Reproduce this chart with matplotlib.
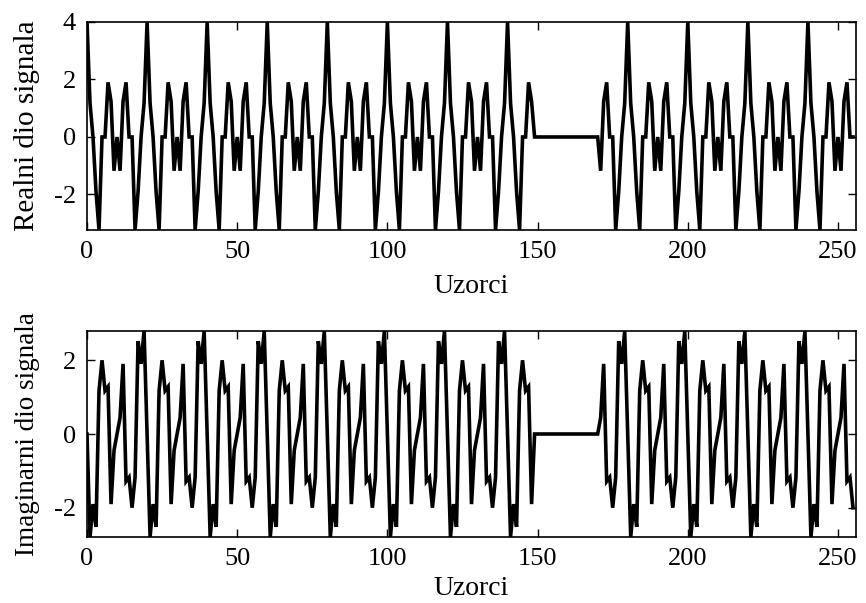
import matplotlib
matplotlib.use("Agg")
import matplotlib.pyplot as plt
import numpy as np

plt.rcParams['font.family'] = ['Liberation Serif', 'DejaVu Serif']
plt.rcParams['axes.unicode_minus'] = False

# Sample values, one row per 20 samples
real_part = [
    4, 1.176, 0, -1.902, -3.236, 0, 0, 1.902, 1.236, -1.176, 0, -1.176, 1.236, 1.902, 0, 0, -3.236, -1.902, 0, 1.176,
    4, 1.176, 0, -1.902, -3.236, 0, 0, 1.902, 1.236, -1.176, 0, -1.176, 1.236, 1.902, 0, 0, -3.236, -1.902, 0, 1.176,
    4, 1.176, 0, -1.902, -3.236, 0, 0, 1.902, 1.236, -1.176, 0, -1.176, 1.236, 1.902, 0, 0, -3.236, -1.902, 0, 1.176,
    4, 1.176, 0, -1.902, -3.236, 0, 0, 1.902, 1.236, -1.176, 0, -1.176, 1.236, 1.902, 0, 0, -3.236, -1.902, 0, 1.176,
    4, 1.176, 0, -1.902, -3.236, 0, 0, 1.902, 1.236, -1.176, 0, -1.176, 1.236, 1.902, 0, 0, -3.236, -1.902, 0, 1.176,
    4, 1.176, 0, -1.902, -3.236, 0, 0, 1.902, 1.236, -1.176, 0, -1.176, 1.236, 1.902, 0, 0, -3.236, -1.902, 0, 1.176,
    4, 1.176, 0, -1.902, -3.236, 0, 0, 1.902, 1.236, -1.176, 0, -1.176, 1.236, 1.902, 0, 0, -3.236, -1.902, 0, 1.176,
    4, 1.176, 0, -1.902, -3.236, 0, 0, 1.902, 1.236, 0, 0, 0, 0, 0, 0, 0, 0, 0, 0, 0,
    0, 0, 0, 0, 0, 0, 0, 0, 0, 0, 0, -1.176, 1.236, 1.902, 0, 0, -3.236, -1.902, 0, 1.176,
    4, 1.176, 0, -1.902, -3.236, 0, 0, 1.902, 1.236, -1.176, 0, -1.176, 1.236, 1.902, 0, 0, -3.236, -1.902, 0, 1.176,
    4, 1.176, 0, -1.902, -3.236, 0, 0, 1.902, 1.236, -1.176, 0, -1.176, 1.236, 1.902, 0, 0, -3.236, -1.902, 0, 1.176,
    4, 1.176, 0, -1.902, -3.236, 0, 0, 1.902, 1.236, -1.176, 0, -1.176, 1.236, 1.902, 0, 0, -3.236, -1.902, 0, 1.176,
    4, 1.176, 0, -1.902, -3.236, 0, 0, 1.902, 1.236, -1.176, 0, -1.176, 1.236, 1.902, 0, 0,
]

imag_part = [
    0, -2.794, -1.902, -2.520, 1.176, 2, 1.176, 1.284, -1.902, -0.442, 0, 0.442, 1.902, -1.284, -1.176, -2, -1.176, 2.520, 1.902, 2.794,
    0, -2.794, -1.902, -2.520, 1.176, 2, 1.176, 1.284, -1.902, -0.442, 0, 0.442, 1.902, -1.284, -1.176, -2, -1.176, 2.520, 1.902, 2.794,
    0, -2.794, -1.902, -2.520, 1.176, 2, 1.176, 1.284, -1.902, -0.442, 0, 0.442, 1.902, -1.284, -1.176, -2, -1.176, 2.520, 1.902, 2.794,
    0, -2.794, -1.902, -2.520, 1.176, 2, 1.176, 1.284, -1.902, -0.442, 0, 0.442, 1.902, -1.284, -1.176, -2, -1.176, 2.520, 1.902, 2.794,
    0, -2.794, -1.902, -2.520, 1.176, 2, 1.176, 1.284, -1.902, -0.442, 0, 0.442, 1.902, -1.284, -1.176, -2, -1.176, 2.520, 1.902, 2.794,
    0, -2.794, -1.902, -2.520, 1.176, 2, 1.176, 1.284, -1.902, -0.442, 0, 0.442, 1.902, -1.284, -1.176, -2, -1.176, 2.520, 1.902, 2.794,
    0, -2.794, -1.902, -2.520, 1.176, 2, 1.176, 1.284, -1.902, -0.442, 0, 0.442, 1.902, -1.284, -1.176, -2, -1.176, 2.520, 1.902, 2.794,
    0, -2.794, -1.902, -2.520, 1.176, 2, 1.176, 1.284, -1.902, 0, 0, 0, 0, 0, 0, 0, 0, 0, 0, 0,
    0, 0, 0, 0, 0, 0, 0, 0, 0, 0, 0, 0.442, 1.902, -1.284, -1.176, -2, -1.176, 2.520, 1.902, 2.794,
    0, -2.794, -1.902, -2.520, 1.176, 2, 1.176, 1.284, -1.902, -0.442, 0, 0.442, 1.902, -1.284, -1.176, -2, -1.176, 2.520, 1.902, 2.794,
    0, -2.794, -1.902, -2.520, 1.176, 2, 1.176, 1.284, -1.902, -0.442, 0, 0.442, 1.902, -1.284, -1.176, -2, -1.176, 2.520, 1.902, 2.794,
    0, -2.794, -1.902, -2.520, 1.176, 2, 1.176, 1.284, -1.902, -0.442, 0, 0.442, 1.902, -1.284, -1.176, -2, -1.176, 2.520, 1.902, 2.794,
    0, -2.794, -1.902, -2.520, 1.176, 2, 1.176, 1.284, -1.902, -0.442, 0, 0.442, 1.902, -1.284, -1.176, -2,
]

samples = list(range(len(real_part)))
x_ticks = [0, 50, 100, 150, 200, 250]
real_ticks = [-2, 0, 2, 4]
imag_ticks = [-2, 0, 2]
x_label = "Uzorci"
real_label = "Realni dio signala"
imag_label = "Imaginarni dio signala"

W, H = 866, 603
fig = plt.figure(figsize=(W / 100, H / 100), dpi=100)

def px_axes(left, top, right, bottom):
    return fig.add_axes([left / W, 1 - bottom / H, (right - left) / W, (bottom - top) / H])

ax1 = px_axes(87, 22, 856, 230)
ax2 = px_axes(87, 331, 856, 537)

fs = 19
for ax, y, ticks, lab, lims, yfs, xpad in [
    (ax1, real_part, real_ticks, real_label, (min(real_part), max(real_part)), 21, 8),
    (ax2, imag_part, imag_ticks, imag_label, (min(imag_part), max(imag_part)), 19.5, 4),
]:
    ax.plot(samples, y, color='black', linewidth=2.6, solid_joinstyle='miter')
    ax.set_xlim(0, 256)
    ax.set_ylim(*lims)
    ax.set_xticks(x_ticks)
    ax.set_yticks(ticks)
    ax.tick_params(direction='in', length=6, width=1, top=True, right=True,
                   labelsize=fs, pad=8, colors='black')
    ax.set_xlabel(x_label, fontsize=20, labelpad=xpad)
    ax.set_ylabel(lab, fontsize=yfs, labelpad=10)
    for s in ax.spines.values():
        s.set_linewidth(1.2)

fig.savefig("out.png", dpi=100, facecolor='white')
